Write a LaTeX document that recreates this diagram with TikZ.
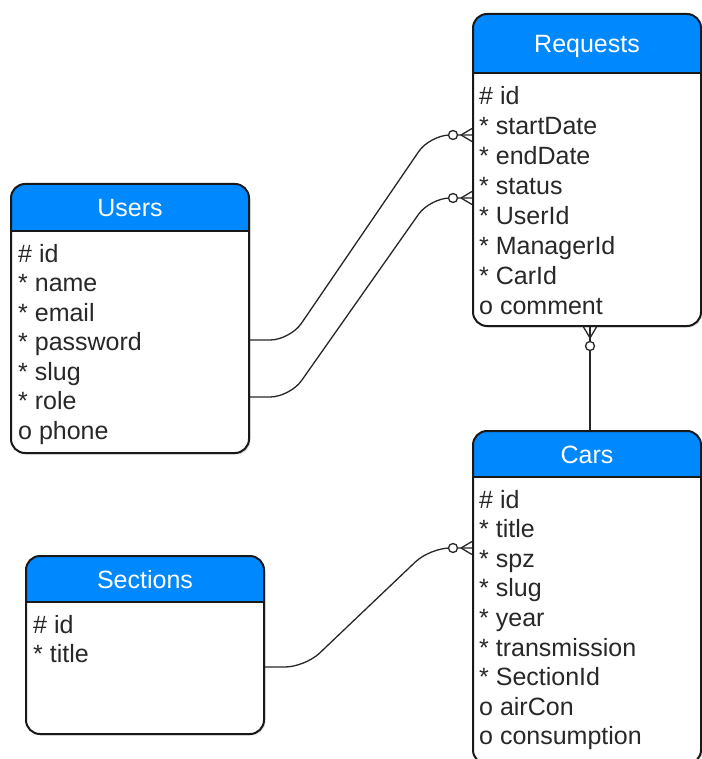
\documentclass[tikz,border=0pt]{standalone}
\usepackage{fontspec}
\setmainfont{Liberation Sans}
\usetikzlibrary{calc,shadows}
\definecolor{headerblue}{RGB}{0,136,255}
\definecolor{fieldtext}{RGB}{40,40,40}
\tikzset{
  entity/.style={
      draw=black!90, line width=2pt, rounded corners=14pt,
      anchor=north west, inner sep=0pt, fill=white,
      drop shadow={shadow xshift=1.5pt, shadow yshift=-1.5pt, opacity=0.25},
      path picture={
          \fill[headerblue, sharp corners] (path picture bounding box.north west)
          rectangle ($(path picture bounding box.north east)+(0,#1)$);
          \draw[line width=2pt, sharp corners]
          ($(path picture bounding box.north west)+(0,#1)$) --
          ($(path picture bounding box.north east)+(0,#1)$);
        }
    },
  entity title/.style={anchor=base, text=white, inner sep=0pt},
  field/.style={anchor=base west, text=fieldtext, inner sep=0pt},
  relation/.style={draw=black!85, line width=1.3pt},
  zero many/.pic={
      \draw[relation] (-11,0) -- (0,-6.5) (-11,0) -- (0,6.5);
      \draw[relation, fill=white] (-19,0) circle[radius=4.5pt];
    }
}

\begin{document}
\begin{tikzpicture}[x=1pt, y=-1pt, font=\fontsize{25}{29.7}\selectfont]

  \useasboundingbox (0,0) rectangle (701,759);

  % ------------------------------------------------------------------
  % Tables.
  % ------------------------------------------------------------------
  \node[entity=59, minimum width=228pt, minimum height=312pt]
  (requests) at (472,13) {};
  \node[entity title] (requests title) at ($(requests.north)+(0,40)$) {Requests};
  \foreach \f [count=\i from 0] in {\# id, * startDate, * endDate, * status,
      * UserId, * ManagerId, * CarId, o comment}
  \node[field] (requests f\i) at ($(requests.north west)+(7,92+29.9*\i)$) {\f};

  \node[entity=47, minimum width=238pt, minimum height=269pt]
  (users) at (10,183) {};
  \node[entity title] (users title) at ($(users.north)+(0,34)$) {Users};
  \foreach \f [count=\i from 0] in {\# id, * name, * email, * password,
      * slug, * role, o phone}
  \node[field] (users f\i) at ($(users.north west)+(8,79+29.5*\i)$) {\f};

  \node[entity=46, minimum width=228pt, minimum height=333pt]
  (cars) at (472,430) {};
  \node[entity title] (cars title) at ($(cars.north)+(0,33)$) {Cars};
  \foreach \f [count=\i from 0] in {\# id, * title, * spz, * slug, * year,
      * transmission, * SectionId, o airCon, o consumption}
  \node[field] (cars f\i) at ($(cars.north west)+(7,78+29.6*\i)$) {\f};

  \node[entity=46, minimum width=238pt, minimum height=178pt]
  (sections) at (25,555) {};
  \node[entity title] (sections title) at ($(sections.north)+(0,33)$) {Sections};
  \foreach \f [count=\i from 0] in {\# id, * title}
  \node[field] (sections f\i) at ($(sections.north west)+(8,78+29.6*\i)$) {\f};

  % ------------------------------------------------------------------
  % Relations (zero or many on the referencing side).
  % ------------------------------------------------------------------
  \coordinate (users out1) at ($(users.north east)+(0,157)$);
  \coordinate (users out2) at ($(users.north east)+(0,214)$);
  \coordinate (requests in1) at ($(requests.north west)+(0,122)$);
  \coordinate (requests in2) at ($(requests.north west)+(0,185)$);
  \coordinate (requests out) at ($(requests.south west)+(118,0)$);
  \coordinate (cars in1) at ($(cars.north west)+(118,0)$);
  \coordinate (cars in2) at ($(cars.north west)+(0,118)$);
  \coordinate (sections out) at ($(sections.north east)+(0,112)$);

  \draw[relation, rounded corners=20pt]
  (users out1) -- ++(40,0) -- ($(requests in1)+(-42,0)$) -- (requests in1);
  \draw[relation, rounded corners=20pt]
  (users out2) -- ++(40,0) -- ($(requests in2)+(-42,0)$) -- (requests in2);
  \draw[relation, rounded corners=20pt]
  (sections out) -- ++(40,0) -- ($(cars in2)+(-42,0)$) -- (cars in2);
  \draw[relation] (requests out) -- (cars in1);

  \pic at (requests in1) {zero many};
  \pic at (requests in2) {zero many};
  \pic at (cars in2) {zero many};
  \pic[rotate=90] at (requests out) {zero many};

\end{tikzpicture}
\end{document}
